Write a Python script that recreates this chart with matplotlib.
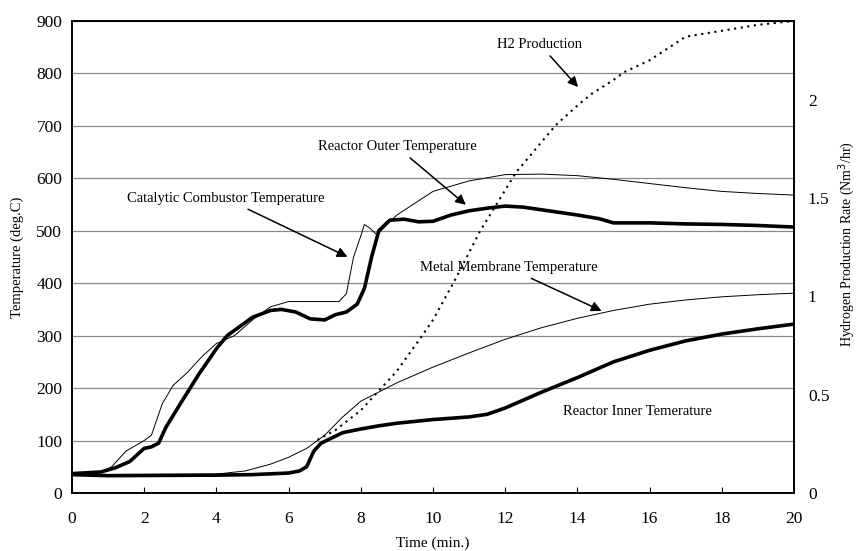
import matplotlib.pyplot as plt
import numpy as np

plt.rcParams['font.family'] = 'Liberation Serif'

# Catalytic combustor temperature (thin)
cc_t = [0, 0.8, 1.1, 1.5, 2.0, 2.2, 2.5, 2.8, 3.2, 3.6, 4.0, 4.5, 5.0, 5.5, 6.0, 6.5, 7.0, 7.4, 7.6,
        7.8, 8.0, 8.1, 8.25, 8.45, 8.7, 9.0, 10, 11, 12, 13, 14, 15, 16, 17, 18, 19, 20]
cc_T = [38, 40, 50, 80, 100, 110, 170, 205, 230, 260, 285, 300, 330, 355, 365, 365, 365, 365, 380,
        450, 490, 512, 505, 492, 510, 530, 575, 595, 607, 608, 605, 598, 590, 582, 575, 571, 568]

# Reactor outer temperature (thick)
ro_t = [0, 0.8, 1.2, 1.6, 2.0, 2.2, 2.4, 2.6, 3.0, 3.5, 4.0, 4.3, 4.7, 5.0, 5.5, 5.8, 6.2, 6.6, 7.0,
        7.3, 7.6, 7.9, 8.1, 8.3, 8.5, 8.8, 9.2, 9.6, 10, 10.5, 11, 11.5, 12, 12.5, 13, 14, 14.6, 15,
        16, 17, 18, 19, 20]
ro_T = [37, 40, 48, 60, 85, 88, 95, 125, 170, 225, 275, 300, 320, 335, 348, 350, 345, 332, 330,
        340, 345, 360, 390, 450, 500, 520, 522, 517, 518, 530, 538, 543, 547, 545, 540, 530, 523, 515,
        515, 513, 512, 510, 507]

# Metal membrane temperature (thin)
mm_t = [0, 4, 4.8, 5.5, 6, 6.5, 7, 7.5, 8, 9, 10, 11, 12, 13, 14, 15, 16, 17, 18, 19, 20]
mm_T = [35, 36, 42, 55, 68, 85, 110, 145, 175, 210, 240, 267, 293, 315, 333, 348, 360, 368, 374, 378, 381]

# Reactor inner temperature (thick)
ri_t = [0, 1, 4, 5, 6, 6.3, 6.5, 6.7, 6.9, 7.2, 7.5, 8, 8.5, 9, 10, 11, 11.5, 12, 13, 14, 14.6, 15,
        16, 17, 18, 19, 20]
ri_T = [35, 33, 34, 35, 38, 42, 50, 80, 95, 105, 115, 122, 128, 133, 140, 145, 150, 162, 192, 220, 238, 250,
        272, 290, 303, 313, 322]

# H2 production (right axis)
h2_t = [6.8, 7.3, 8, 8.5, 9, 9.7, 10, 10.6, 11.3, 12.3, 13.4, 14, 14.4, 15, 15.3, 16, 17, 18, 19, 20]
h2_r = [0.27, 0.32, 0.42, 0.52, 0.62, 0.80, 0.88, 1.08, 1.33, 1.63, 1.87, 1.97, 2.03, 2.10, 2.14, 2.20,
        2.32, 2.35, 2.38, 2.40]

fig = plt.figure(figsize=(8.58, 5.51), dpi=100)
ax = fig.add_axes([0.0839, 0.1053, 0.8415, 0.8567])
ax2 = ax.twinx()

ax.plot(cc_t, cc_T, color='black', lw=0.7)
ax.plot(mm_t, mm_T, color='black', lw=0.7)
ax.plot(ro_t, ro_T, color='black', lw=2.6)
ax.plot(ri_t, ri_T, color='black', lw=2.6)
ax2.plot(h2_t, h2_r, color='black', lw=1.5, ls=(0, (1, 2.2)))

ax.set_xlim(0, 20)
ax.set_ylim(0, 900)
ax2.set_ylim(0, 2.4)
ax.set_xticks(np.arange(0, 21, 2))
ax.set_yticks(np.arange(0, 901, 100))
ax2.set_yticks([0, 0.5, 1, 1.5, 2])
ax2.set_yticklabels(['0', '0.5', '1', '1.5', '2'])
ax.grid(axis='y', color='#888888', lw=0.9)
ax.set_axisbelow(True)

ax.tick_params(axis='x', direction='in', length=4, labelsize=12.5, pad=13)
ax.tick_params(axis='y', length=0, labelsize=12.5, pad=7)
ax2.tick_params(axis='y', length=0, labelsize=12.5, pad=10)
for a in (ax, ax2):
    for s in a.spines.values():
        s.set_linewidth(1.2)

ax.set_xlabel('Time (min.)', fontsize=11, labelpad=7)
ax.set_ylabel('Temperature (deg.C)', fontsize=10.5, labelpad=9)
ax2.set_ylabel('Hydrogen Production Rate (Nm$^3$/hr)', fontsize=10, va='center')
ax2.yaxis.set_label_coords(1.073, 0.527)

arrow = dict(arrowstyle='-|>', color='black', lw=1.1, mutation_scale=15)
fs = 10.5
ax.annotate('H2 Production', xy=(14.07, 770), xytext=(12.96, 855), ha='center', va='center',
            fontsize=fs, arrowprops=arrow)
ax.annotate('Reactor Outer Temperature', xy=(10.97, 546), xytext=(9.0, 660), ha='center', va='center',
            fontsize=fs, arrowprops=arrow)
ax.annotate('Catalytic Combustor Temperature', xy=(7.7, 448), xytext=(4.27, 561), ha='center',
            va='center', fontsize=fs, arrowprops=arrow)
ax.annotate('Metal Membrane Temperature', xy=(14.74, 345), xytext=(12.1, 429), ha='center',
            va='center', fontsize=fs, arrowprops=arrow)
ax.text(15.65, 155, 'Reactor Inner Temerature', ha='center', va='center', fontsize=fs)

fig.savefig('out.png', dpi=100)
